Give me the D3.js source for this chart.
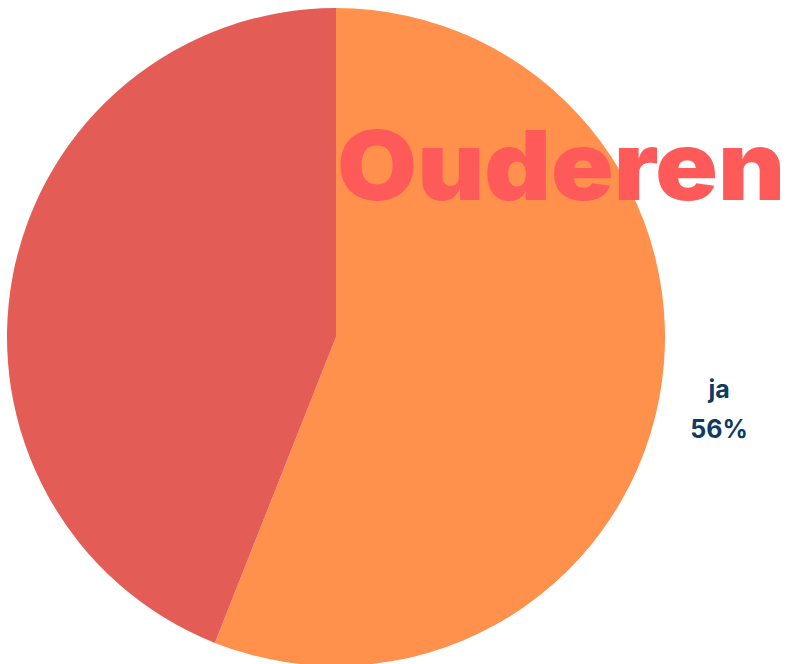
<!DOCTYPE html>
<html>
<head>
<meta charset="utf-8">
<script src="https://cdn.jsdelivr.net/npm/d3@7"></script>
<style>
  html, body { margin: 0; padding: 0; background: #fff; overflow: hidden; }
</style>
</head>
<body>
<div id="chart"></div>
<script>
// Chart data
const categories = ["ja", "nee"];
const values = [56, 44];
const sliceColors = ["#FF914D", "#E35D56"];
const title = "Ouderen";

const width = 789, height = 664;
const cx = 336, cy = 337, radius = 329;
const labelRadius = 390;

const svg = d3.select("#chart").append("svg")
    .attr("width", width)
    .attr("height", height);

const g = svg.append("g").attr("transform", `translate(${cx},${cy})`);

const pie = d3.pie().sort(null).value(d => d.value);
const arcs = pie(categories.map((c, i) => ({ name: c, value: values[i] })));

const arc = d3.arc().innerRadius(0).outerRadius(radius);
const labelArc = d3.arc().innerRadius(labelRadius).outerRadius(labelRadius);

const color = d3.scaleOrdinal().domain(categories).range(sliceColors);

// Slices
g.selectAll("path.slice")
    .data(arcs)
    .enter().append("path")
    .attr("class", "slice")
    .attr("d", arc)
    .attr("fill", d => color(d.data.name));

// Labels (name + percentage) outside the slices; the one that would land
// off the left edge is not shown, as in the original
const total = d3.sum(values);
const visibleArcs = arcs.filter(d => cx + labelArc.centroid(d)[0] > 30);

const labels = g.selectAll("g.label")
    .data(visibleArcs)
    .enter().append("g")
    .attr("class", "label")
    .attr("transform", d => `translate(${labelArc.centroid(d)})`);

labels.append("text")
    .attr("text-anchor", "middle")
    .attr("y", -12)
    .attr("font-family", "Inter, 'DejaVu Sans', sans-serif")
    .attr("font-weight", 700)
    .attr("font-size", 25)
    .attr("fill", "#0E3B62")
    .text(d => d.data.name);

labels.append("text")
    .attr("text-anchor", "middle")
    .attr("y", 28)
    .attr("font-family", "Inter, 'DejaVu Sans', sans-serif")
    .attr("font-weight", 700)
    .attr("font-size", 25)
    .attr("fill", "#0E3B62")
    .text(d => Math.round(d.data.value / total * 100) + "%");

// Title
svg.append("text")
    .attr("x", 337)
    .attr("y", 200)
    .attr("font-family", "Inter, 'DejaVu Sans', sans-serif")
    .attr("font-weight", 900)
    .attr("font-size", 96)
    .attr("textLength", 448)
    .attr("lengthAdjust", "spacingAndGlyphs")
    .attr("fill", "#FF5A5A")
    .text(title);
</script>
</body>
</html>
